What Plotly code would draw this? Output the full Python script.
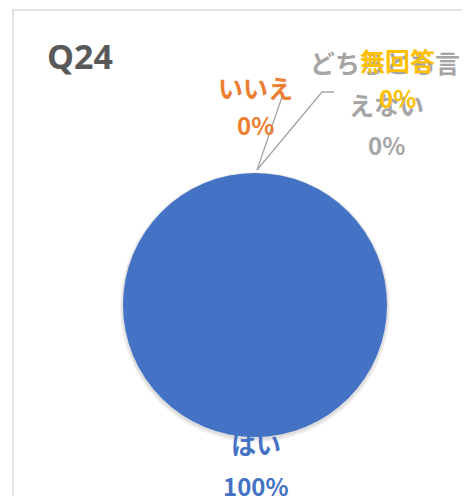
import plotly.graph_objects as go

categories = ["はい", "いいえ", "どちらとも言えない", "無回答"]
values = [100, 0, 0, 0]
colors = ["#4472C4", "#ED7D31", "#A5A5A5", "#FFC000"]
title_text = "Q24"

W, H = 470, 496
OFF = 8  # page body margin
def px(x):
    return (x - OFF) / W
def py(y):
    return 1 - (y - OFF) / H

total = sum(values)
pcts = [f"{v / total * 100:.0f}%" for v in values]

cx, cy, r = 255, 305, 132

fig = go.Figure(go.Pie(
    labels=categories,
    values=values,
    marker=dict(colors=colors, line=dict(width=0)),
    textinfo="none",
    sort=False,
    direction="clockwise",
    rotation=0,
    showlegend=False,
    hoverinfo="label+percent",
    domain=dict(x=[px(cx - r), px(cx + r)], y=[py(cy + r), py(cy - r)]),
))

font_family = "Noto Sans CJK JP, Noto Sans, sans-serif"
ann = []
def add(text, x, y, color, size=25):
    ann.append(dict(text=f"<b>{text}</b>", x=px(x), y=py(y), xref="paper", yref="paper",
                    showarrow=False, xanchor="center", yanchor="middle",
                    font=dict(family=font_family, size=size, color=color)))

add(categories[0], 256, 443, colors[0])
add(pcts[0], 256, 485, colors[0], 24)
add(categories[1], 255, 87, colors[1])
add(pcts[1], 255, 125, colors[1], 24)
add(categories[2][:6], 385, 62, colors[2])
add(categories[2][6:], 386, 104, colors[2])
add(pcts[2], 386, 145, colors[2], 24)
add(categories[3], 397, 60, colors[3])
add(pcts[3], 397, 98, colors[3], 24)

title = dict(text=f"<b>{title_text}</b>", x=px(45), y=py(56), xref="paper", yref="paper",
             showarrow=False, xanchor="left", yanchor="middle",
             font=dict(family="Open Sans, sans-serif", size=34, color="#595959"))
ann.insert(0, title)

line_col = "#A5A5A5"
shapes = [
    dict(type="rect", xref="paper", yref="paper", x0=px(13), y0=py(10), x1=px(500), y1=py(530),
         line=dict(color="#D9D9D9", width=1.5), fillcolor="rgba(0,0,0,0)", layer="below"),
    # soft shadow under the pie
    dict(type="circle", xref="paper", yref="paper",
         x0=px(cx - r - 3), x1=px(cx + r + 3), y0=py(cy + r + 5), y1=py(cy - r - 1),
         line=dict(width=0), fillcolor="rgba(0,0,0,0.06)", layer="below"),
    dict(type="circle", xref="paper", yref="paper",
         x0=px(cx - r - 1.5), x1=px(cx + r + 1.5), y0=py(cy + r + 3), y1=py(cy - r),
         line=dict(width=0), fillcolor="rgba(0,0,0,0.07)", layer="below"),
    dict(type="line", xref="paper", yref="paper", x0=px(257), y0=py(170), x1=px(282), y1=py(97),
         line=dict(color=line_col, width=1.3)),
    dict(type="path", xref="paper", yref="paper",
         path=f"M {px(257)} {py(170)} L {px(322)} {py(92)} L {px(334)} {py(92)}",
         line=dict(color=line_col, width=1.3)),
]

fig.update_layout(
    width=W, height=H,
    margin=dict(l=0, r=0, t=0, b=0),
    paper_bgcolor="white",
    plot_bgcolor="white",
    annotations=ann,
    shapes=shapes,
)

fig.write_html("out.html")
